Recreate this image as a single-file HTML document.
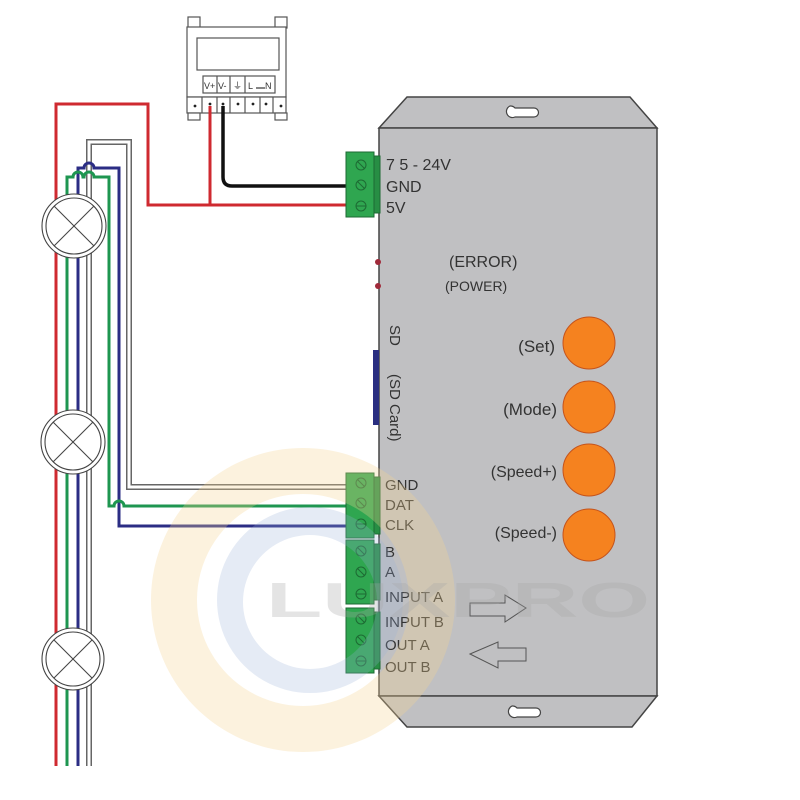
<!DOCTYPE html>
<html><head><meta charset="utf-8"><style>
html,body{margin:0;padding:0;background:#fff;}
svg{display:block;}
text{font-family:"Liberation Sans",Arial,sans-serif;fill:#333;}
</style></head><body>
<svg width="800" height="800" viewBox="0 0 800 800" xmlns="http://www.w3.org/2000/svg">
<rect width="800" height="800" fill="#fff"/>

<!-- Power supply -->
<g stroke="#555" stroke-width="1.2" fill="#fff">
  <rect x="188" y="17" width="12" height="11"/>
  <rect x="275" y="17" width="12" height="11"/>
  <rect x="187" y="27" width="99" height="70"/>
  <rect x="197" y="38" width="82" height="32"/>
  <rect x="203" y="76" width="72" height="17"/>
  <line x1="217" y1="76" x2="217" y2="93"/>
  <line x1="230" y1="76" x2="230" y2="93"/>
  <line x1="245" y1="76" x2="245" y2="93"/>
  <rect x="187" y="97" width="99" height="16"/>
  <line x1="202" y1="97" x2="202" y2="113"/>
  <line x1="217" y1="97" x2="217" y2="113"/>
  <line x1="230" y1="97" x2="230" y2="113"/>
  <line x1="245" y1="97" x2="245" y2="113"/>
  <line x1="260" y1="97" x2="260" y2="113"/>
  <line x1="273" y1="97" x2="273" y2="113"/>
  <rect x="188" y="113" width="12" height="7"/>
  <rect x="275" y="113" width="12" height="7"/>
</g>
<g fill="#222">
  <circle cx="195" cy="106" r="1.4"/><circle cx="210" cy="104" r="1.4"/><circle cx="223" cy="104" r="1.4"/>
  <circle cx="238" cy="104" r="1.4"/><circle cx="253" cy="104" r="1.4"/><circle cx="266" cy="104" r="1.4"/><circle cx="281" cy="106" r="1.4"/>
</g>
<text x="204" y="89" font-size="9">V+</text>
<text x="218" y="89" font-size="9">V-</text>
<text x="233" y="89" font-size="9">⏚</text>
<text x="248" y="89" font-size="9">L</text>
<line x1="256" y1="88" x2="265" y2="88" stroke="#333" stroke-width="1.2"/>
<text x="265" y="89" font-size="9">N</text>

<!-- Controller body -->
<g stroke="#444" stroke-width="1.5" fill="#c0c0c2">
  <polygon points="407,97 630,97 657,128 379,128"/>
  <rect x="379" y="128" width="278" height="568"/>
  <polygon points="379,696 657,696 632,727 407,727"/>
</g>
<!-- keyholes -->
<g stroke="#444" stroke-width="1.2" fill="#fff">
  <path d="M510,106 a6,6 0 1,0 5,11 h19 a4.5,4.5 0 0,0 0,-9 h-19 a6,6 0 0,0 -5,-2 z"/>
  <path d="M512,706 a6,6 0 1,0 5,11 h19 a4.5,4.5 0 0,0 0,-9 h-19 a6,6 0 0,0 -5,-2 z"/>
</g>

<!-- wires -->
<g fill="none" stroke-linejoin="miter">
  <polyline points="56,766 56,104 148,104 148,205 346,205" stroke="#cf2a30" stroke-width="3"/>
  <line x1="210" y1="106" x2="210" y2="205" stroke="#cf2a30" stroke-width="3"/>
  <path d="M223,106 V177 Q223,186 232,186 H346" stroke="#111" stroke-width="3.5"/>
  <polyline points="89,766 89,142 129,142 129,487 346,487" stroke="#666" stroke-width="6"/>
  <polyline points="89,767 89,142 129,142 129,487 347,487" stroke="#fff" stroke-width="3"/>
  <path d="M78,766 V168 H84 A5,5 0 0,1 94,168 H119 V526 H346" stroke="#2b2d84" stroke-width="3"/>
  <path d="M67,766 V177 H73 A5,5 0 0,1 83,177 H84 A5,5 0 0,1 94,177 H109 V506 H114 A5,5 0 0,1 124,506 H346" stroke="#1e9650" stroke-width="3"/>
</g>

<!-- lamps -->
<g stroke="#444" stroke-width="1.1">
  <circle cx="74" cy="226" r="32" fill="#fff"/>
  <circle cx="74" cy="226" r="28" fill="none"/>
  <line x1="54" y1="206" x2="94" y2="246"/><line x1="94" y1="206" x2="54" y2="246"/>
  <circle cx="73" cy="442" r="32" fill="#fff"/>
  <circle cx="73" cy="442" r="28" fill="none"/>
  <line x1="53" y1="422" x2="93" y2="462"/><line x1="93" y1="422" x2="53" y2="462"/>
  <circle cx="73" cy="659" r="31" fill="#fff"/>
  <circle cx="73" cy="659" r="27" fill="none"/>
  <line x1="54" y1="640" x2="92" y2="678"/><line x1="92" y1="640" x2="54" y2="678"/>
</g>

<!-- terminal blocks -->
<g stroke="#1d6a33" stroke-width="1">
  <rect x="346" y="152" width="28" height="65" fill="#2fa650"/>
  <rect x="374" y="156" width="6" height="57" fill="#278e44"/>
  <rect x="346" y="473" width="28" height="65" fill="#2fa650"/>
  <rect x="374" y="477" width="6" height="57" fill="#278e44"/>
  <rect x="346" y="540" width="28" height="64" fill="#2fa650"/>
  <rect x="374" y="544" width="6" height="56" fill="#278e44"/>
  <rect x="346" y="608" width="28" height="65" fill="#2fa650"/>
  <rect x="374" y="612" width="6" height="57" fill="#278e44"/>
</g>
<g stroke="#1d6a33" stroke-width="1" fill="none">
  <circle cx="361" cy="165" r="5"/><line x1="357.5" y1="161.5" x2="364.5" y2="168.5"/>
  <circle cx="361" cy="185" r="5"/><line x1="357.5" y1="181.5" x2="364.5" y2="188.5"/>
  <circle cx="361" cy="206" r="5"/><line x1="356" y1="206" x2="366" y2="206"/>
  <circle cx="361" cy="483" r="5"/><line x1="357.5" y1="479.5" x2="364.5" y2="486.5"/>
  <circle cx="361" cy="503" r="5"/><line x1="357.5" y1="499.5" x2="364.5" y2="506.5"/>
  <circle cx="361" cy="524" r="5"/><line x1="356" y1="524" x2="366" y2="524"/>
  <circle cx="361" cy="551" r="5"/><line x1="357.5" y1="547.5" x2="364.5" y2="554.5"/>
  <circle cx="361" cy="572" r="5"/><line x1="357.5" y1="568.5" x2="364.5" y2="575.5"/>
  <circle cx="361" cy="594" r="5"/><line x1="356" y1="594" x2="366" y2="594"/>
  <circle cx="361" cy="619" r="5"/><line x1="357.5" y1="615.5" x2="364.5" y2="622.5"/>
  <circle cx="361" cy="640" r="5"/><line x1="357.5" y1="636.5" x2="364.5" y2="643.5"/>
  <circle cx="361" cy="661" r="5"/><line x1="356" y1="661" x2="366" y2="661"/>
</g>

<!-- LEDs + SD slot -->
<circle cx="378" cy="262" r="3" fill="#a02a3a"/>
<circle cx="378" cy="286" r="3" fill="#a02a3a"/>
<rect x="373" y="350" width="6" height="75" fill="#2a2f80"/>

<!-- labels -->
<g font-size="16">
  <text x="386" y="170">7  5 - 24V</text>
  <text x="386" y="192">GND</text>
  <text x="386" y="213">5V</text>
  <text x="449" y="267">(ERROR)</text>
</g>
<text x="445" y="291" font-size="14">(POWER)</text>
<g font-size="15">
  <text x="385" y="490">GND</text>
  <text x="385" y="510">DAT</text>
  <text x="385" y="530">CLK</text>
  <text x="385" y="557">B</text>
  <text x="385" y="577">A</text>
  <text x="385" y="602">INPUT A</text>
  <text x="385" y="627">INPUT B</text>
  <text x="385" y="650">OUT A</text>
  <text x="385" y="672">OUT B</text>
</g>
<text font-size="15" transform="translate(390,325) rotate(90)">SD</text>
<text font-size="15" transform="translate(390,374) rotate(90)">(SD Card)</text>

<!-- buttons -->
<g fill="#f5821f" stroke="#c4531c" stroke-width="1">
  <circle cx="589" cy="343" r="26"/>
  <circle cx="589" cy="407" r="26"/>
  <circle cx="589" cy="470" r="26"/>
  <circle cx="589" cy="535" r="26"/>
</g>
<g text-anchor="end">
  <text x="555" y="352" font-size="17">(Set)</text>
  <text x="557" y="415" font-size="17">(Mode)</text>
  <text x="557" y="477" font-size="16">(Speed+)</text>
  <text x="557" y="538" font-size="16">(Speed-)</text>
</g>

<!-- arrows -->
<g fill="none" stroke="#555" stroke-width="1">
  <polygon points="470,603 505,603 505,595 526,608 505,622 505,616 470,616"/>
  <polygon points="470,654 498,642 498,648 526,648 526,661 498,661 498,668"/>
</g>

<!-- watermark -->
<g>
  <path fill-rule="evenodd" fill="rgb(245,212,145)" opacity="0.3" d="M303,448 a152,152 0 1,0 0.01,0 z M303,494 a106,106 0 1,1 -0.01,0 z"/>
  <path fill-rule="evenodd" fill="rgb(150,175,215)" opacity="0.25" d="M310,507 a93,93 0 1,0 0.01,0 z M310,535 a67,67 0 1,1 -0.01,0 z"/>
  <text x="266" y="617" font-size="49" font-weight="bold" textLength="384" lengthAdjust="spacingAndGlyphs" style="fill:rgb(165,165,165);fill-opacity:0.3">LUXPRO</text>
</g>
</svg>
</body></html>
